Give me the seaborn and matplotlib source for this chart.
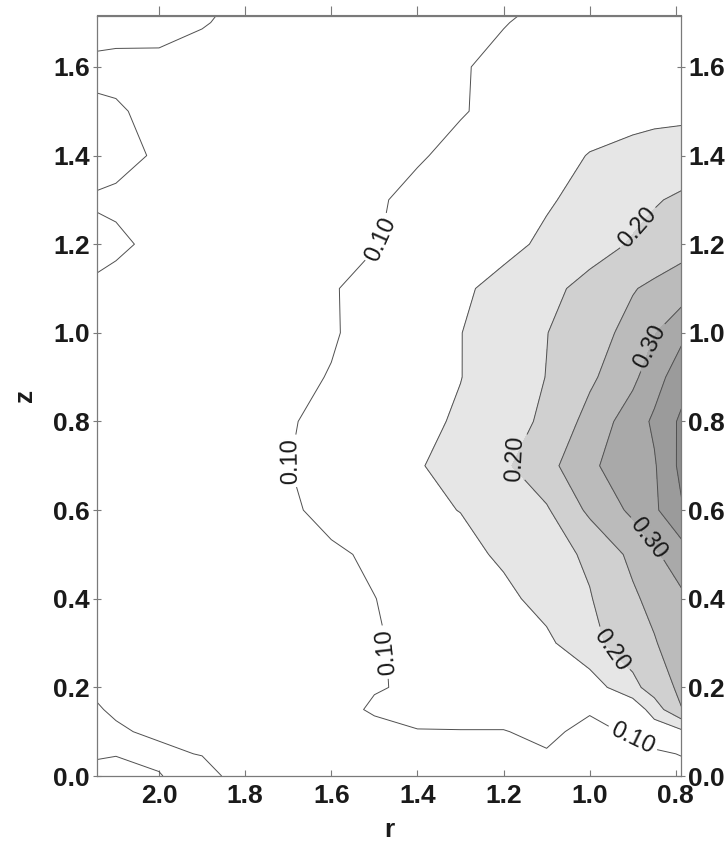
import numpy as np
import matplotlib.pyplot as plt
import seaborn as sns

# ------------------------------------------------------------------
# DATA
# ------------------------------------------------------------------

# radial positions (columns) and heights (rows) of the sampled field
r_vals = [0.78, 0.85, 0.9, 1.0, 1.1, 1.2, 1.3, 1.4, 1.5, 1.6, 1.7, 1.8, 1.9, 2.0, 2.1, 2.2]
z_vals = [0.0, 0.05, 0.1, 0.15, 0.2, 0.3, 0.4, 0.5, 0.6, 0.7, 0.8, 0.9,
          1.0, 1.1, 1.2, 1.3, 1.4, 1.5, 1.6, 1.7, 1.8]

# one row per z value, one entry per r value
conc = [
    [0.090, 0.088, 0.085, 0.080, 0.088, 0.082, 0.083, 0.082, 0.078, 0.072, 0.067, 0.062, 0.040, 0.051, 0.058, 0.055],  # z=0.00
    [0.102, 0.095, 0.092, 0.085, 0.098, 0.088, 0.090, 0.090, 0.085, 0.078, 0.070, 0.060, 0.051, 0.046, 0.049, 0.046],  # z=0.05
    [0.145, 0.118, 0.104, 0.092, 0.106, 0.099, 0.099, 0.099, 0.090, 0.082, 0.075, 0.068, 0.058, 0.053, 0.048, 0.044],  # z=0.10
    [0.255, 0.175, 0.113, 0.103, 0.108, 0.110, 0.110, 0.107, 0.104, 0.088, 0.080, 0.072, 0.066, 0.060, 0.052, 0.045],  # z=0.15
    [0.265, 0.222, 0.186, 0.125, 0.118, 0.113, 0.108, 0.104, 0.098, 0.090, 0.083, 0.075, 0.068, 0.062, 0.056, 0.048],  # z=0.20
    [0.285, 0.246, 0.227, 0.186, 0.140, 0.128, 0.118, 0.108, 0.097, 0.090, 0.085, 0.078, 0.072, 0.068, 0.065, 0.068],  # z=0.30
    [0.295, 0.265, 0.242, 0.197, 0.167, 0.138, 0.125, 0.110, 0.0995, 0.090, 0.085, 0.078, 0.072, 0.068, 0.065, 0.065],  # z=0.40
    [0.332, 0.292, 0.262, 0.208, 0.181, 0.158, 0.135, 0.120, 0.105, 0.095, 0.085, 0.078, 0.072, 0.068, 0.065, 0.065],  # z=0.50
    [0.402, 0.341, 0.310, 0.260, 0.1946, 0.173, 0.151, 0.140, 0.130, 0.110, 0.0946, 0.085, 0.075, 0.070, 0.065, 0.065],  # z=0.60
    [0.420, 0.345, 0.330, 0.291, 0.2335, 0.192, 0.169, 0.146, 0.135, 0.120, 0.099, 0.085, 0.075, 0.070, 0.065, 0.065],  # z=0.70
    [0.415, 0.358, 0.326, 0.267, 0.208, 0.182, 0.156, 0.138, 0.125, 0.110, 0.097, 0.085, 0.075, 0.070, 0.065, 0.065],  # z=0.80
    [0.383, 0.330, 0.289, 0.241, 0.201, 0.175, 0.149, 0.135, 0.122, 0.102, 0.090, 0.080, 0.072, 0.068, 0.065, 0.060],  # z=0.90
    [0.344, 0.297, 0.266, 0.228, 0.199, 0.174, 0.149, 0.133, 0.115, 0.096, 0.088, 0.080, 0.072, 0.068, 0.064, 0.060],  # z=1.00
    [0.277, 0.260, 0.247, 0.2145, 0.1875, 0.165, 0.142, 0.128, 0.113, 0.097, 0.088, 0.078, 0.070, 0.062, 0.055, 0.050],  # z=1.10
    [0.233, 0.216, 0.204, 0.181, 0.159, 0.1365, 0.125, 0.112, 0.098, 0.090, 0.082, 0.075, 0.068, 0.054, 0.047, 0.045],  # z=1.20
    [0.209, 0.196, 0.186, 0.165, 0.145, 0.133, 0.120, 0.108, 0.096, 0.088, 0.080, 0.072, 0.065, 0.058, 0.053, 0.050],  # z=1.30
    [0.172, 0.168, 0.163, 0.152, 0.132, 0.120, 0.108, 0.097, 0.090, 0.083, 0.077, 0.070, 0.062, 0.052, 0.045, 0.040],  # z=1.40
    [0.140, 0.138, 0.135, 0.128, 0.118, 0.108, 0.098, 0.090, 0.083, 0.077, 0.072, 0.066, 0.060, 0.055, 0.048, 0.046],  # z=1.50
    [0.130, 0.128, 0.125, 0.120, 0.113, 0.106, 0.098, 0.090, 0.083, 0.077, 0.072, 0.066, 0.062, 0.056, 0.055, 0.053],  # z=1.60
    [0.125, 0.122, 0.120, 0.113, 0.106, 0.099, 0.093, 0.087, 0.080, 0.075, 0.068, 0.058, 0.048, 0.042, 0.043, 0.042],  # z=1.70
    [0.120, 0.115, 0.110, 0.104, 0.097, 0.092, 0.086, 0.080, 0.074, 0.068, 0.060, 0.050, 0.042, 0.040, 0.040, 0.040],  # z=1.80
]

plain_levels = [0.05, 0.15, 0.25, 0.35, 0.40]
label_levels = [0.10, 0.20, 0.30]
fill_levels = [0.15, 0.20, 0.25, 0.30, 0.35, 0.40, 0.50]

r_ticks = [2.0, 1.8, 1.6, 1.4, 1.2, 1.0, 0.8]
z_ticks = [0.0, 0.2, 0.4, 0.6, 0.8, 1.0, 1.2, 1.4, 1.6]

#__________________________________________________________________

# PLOT

sns.set_style("white")
plt.rcParams['font.family'] = ['Liberation Sans', 'DejaVu Sans']

fill_colors = ['#e6e6e6', '#d0d0d0', '#bbbbbb', '#a9a9a9', '#9b9b9b', '#8d8d8d']
line_col = '#505050'
spine_grey = '#7a7a7a'
text_col = '#1a1a1a'

fig = plt.figure(figsize=(7.28, 8.59), dpi=100)
ax = fig.add_axes([97 / 728, 1 - 776 / 859, (681 - 97) / 728, (776 - 15.5) / 859])

ax.set_xlim(2.144, 0.788)
ax.set_ylim(0, 1.716)

R, Z = np.meshgrid(r_vals, z_vals)
C = np.array(conc)

ax.contourf(R, Z, C, levels=fill_levels, colors=fill_colors)
ax.contour(R, Z, C, levels=plain_levels, colors=line_col, linewidths=0.7)
cs = ax.contour(R, Z, C, levels=label_levels, colors=line_col, linewidths=0.7)

# where the labels sit on the lines
label_spots = [(1.48, 1.21), (1.69, 0.71), (1.47, 0.28), (0.90, 0.085),
               (0.88, 1.23), (1.16, 0.71), (0.965, 0.27),
               (0.86, 0.97), (0.86, 0.54)]
labels = ax.clabel(cs, fmt='%.2f', fontsize=17, colors=text_col,
                   inline=True, inline_spacing=4, manual=label_spots)

# the r axis runs right-to-left: re-align each label with the line gap it sits in
trans = ax.transData
for t in labels:
    lev = label_levels.index(float(t.get_text()))
    pts = trans.transform(cs.get_paths()[lev].vertices)
    c = trans.transform(t.get_position())
    d = np.hypot(*(pts - c).T)
    p1 = pts[np.argmin(d)]
    side = (pts - c) @ (p1 - c)
    d_other = np.where(side < 0, d, np.inf)
    p2 = pts[np.argmin(d_other)]
    ang = np.degrees(np.arctan2(p2[1] - p1[1], p2[0] - p1[0]))
    if ang > 90:
        ang -= 180
    elif ang < -90:
        ang += 180
    if ang < -75:   # near-vertical labels read upwards
        ang += 180
    t.set_transform_rotates_text(False)
    t.set_rotation(ang)

ax.set_xticks(r_ticks, labels=[f'{t:.1f}' for t in r_ticks], fontweight='bold')
ax.set_yticks(z_ticks, labels=[f'{t:.1f}' for t in z_ticks], fontweight='bold')
ax.tick_params(axis='x', bottom=True, direction='in', length=4, width=0.8,
               color=spine_grey, labelsize=19, labelcolor=text_col, pad=6)
ax.tick_params(axis='y', left=True, right=True, labelleft=True, labelright=True,
               direction='inout', length=6, width=0.8, color=spine_grey,
               labelsize=19, labelcolor=text_col, pad=2)

top = ax.secondary_xaxis('top')
top.set_xticks(r_ticks)
top.tick_params(direction='out', length=6.5, width=0.8, color=spine_grey, labeltop=False)
top.spines['top'].set_color(spine_grey)

for s in ax.spines.values():
    s.set_color(spine_grey)
    s.set_linewidth(0.9)

ax.set_xlabel('r', fontsize=19, fontweight='bold', color=text_col, labelpad=7)
ax.set_ylabel('z', fontsize=19, fontweight='bold', color=text_col, labelpad=12)

fig.savefig('out.png', dpi=100)
